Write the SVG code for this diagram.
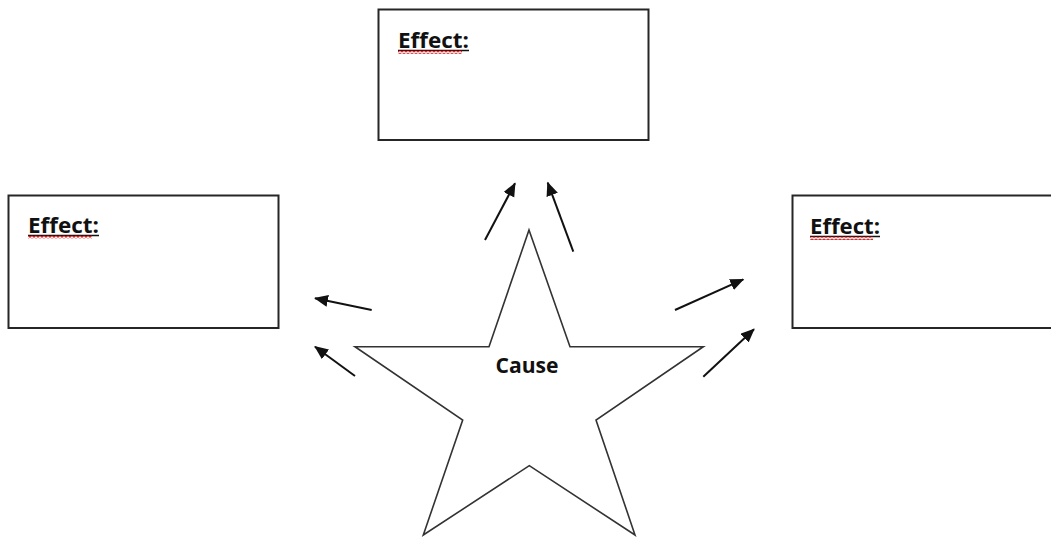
<svg xmlns="http://www.w3.org/2000/svg" width="1051" height="538" viewBox="0 0 1051 538">
  <style>
    .box { fill: #ffffff; stroke: #262626; stroke-width: 2; }
    .label { font-family: "Open Sans", "Liberation Sans", sans-serif; font-weight: bold; font-size: 22px; fill: #111111; }
    .uline { stroke: #111111; stroke-width: 1.5; }
    .star { fill: #ffffff; stroke: #333333; stroke-width: 1.6; stroke-linejoin: miter; }
    .arrow { stroke: #111111; stroke-width: 2; fill: none; marker-end: url(#head); }
  </style>
  <defs>
    <marker id="head" markerUnits="userSpaceOnUse" markerWidth="15" markerHeight="13" refX="13" refY="6" orient="auto">
      <path d="M0,0 L14,6 L0,12 z" fill="#111111"/>
    </marker>
    <!-- wavy red spell-check underline -->
    <pattern id="squiggle" patternUnits="userSpaceOnUse" width="4" height="3.5">
      <path d="M0,0.8 L2,2.7 L4,0.8" fill="none" stroke="#e00000" stroke-width="1.2"/>
    </pattern>
  </defs>

  <rect width="1051" height="538" fill="#ffffff"/>

  <g id="effect-top">
    <rect class="box" x="378.5" y="9.5" width="270" height="130.5"/>
    <text class="label" x="398" y="48" textLength="71" lengthAdjust="spacingAndGlyphs">Effect:</text>
    <line class="uline" x1="398" y1="50.5" x2="469" y2="50.5"/>
    <rect x="398" y="50.5" width="64" height="3.5" fill="url(#squiggle)"/>
  </g>

  <g id="effect-left">
    <rect class="box" x="8.5" y="195.5" width="270" height="132.5"/>
    <text class="label" x="28" y="233" textLength="71" lengthAdjust="spacingAndGlyphs">Effect:</text>
    <line class="uline" x1="28" y1="235.5" x2="99" y2="235.5"/>
    <rect x="28" y="235.5" width="64" height="3.5" fill="url(#squiggle)"/>
  </g>

  <g id="effect-right">
    <rect class="box" x="792.5" y="195.5" width="280" height="132.5"/>
    <text class="label" x="810" y="234" textLength="70" lengthAdjust="spacingAndGlyphs">Effect:</text>
    <line class="uline" x1="810" y1="236.5" x2="880" y2="236.5"/>
    <rect x="810" y="236.5" width="63" height="3.5" fill="url(#squiggle)"/>
  </g>

  <g id="cause">
    <polygon class="star" points="529,230 570,346.7 703.3,346.7 596,420 635,535 529.3,465.7 423.3,535 462.7,420 355,346.7 489,346.7"/>
    <text class="label" x="527" y="373" text-anchor="middle" textLength="63" lengthAdjust="spacingAndGlyphs">Cause</text>
  </g>

  <g id="connectors">
    <line class="arrow" x1="485" y1="240" x2="515" y2="183.3"/>
    <line class="arrow" x1="573.3" y1="251.7" x2="547.7" y2="182.7"/>
    <line class="arrow" x1="371.7" y1="310" x2="315" y2="298.3"/>
    <line class="arrow" x1="355" y1="376" x2="315" y2="346.7"/>
    <line class="arrow" x1="675" y1="310" x2="743.3" y2="279.3"/>
    <line class="arrow" x1="703.3" y1="376.7" x2="754" y2="329.3"/>
  </g>
</svg>
